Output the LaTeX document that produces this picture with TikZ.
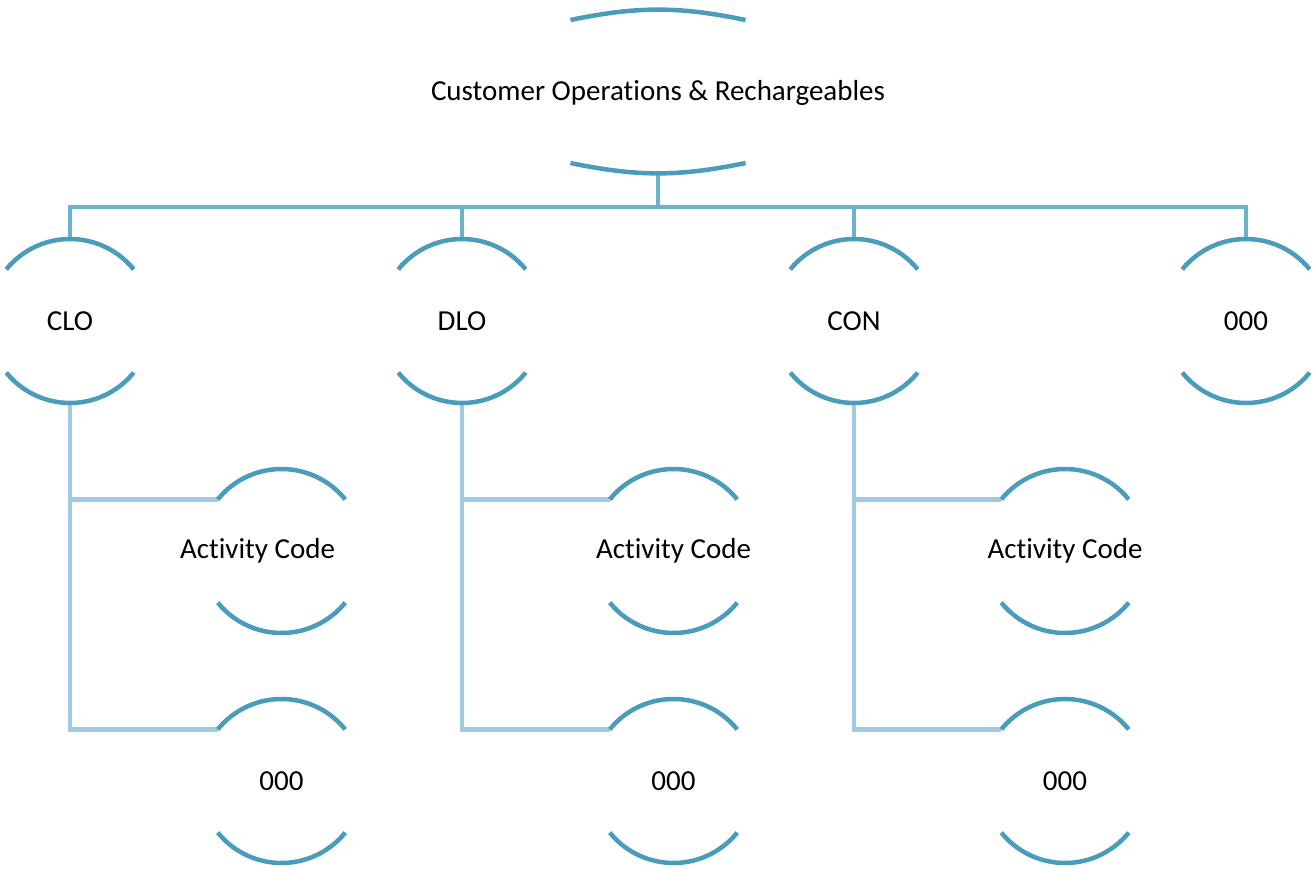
\documentclass[tikz,border=0pt]{standalone}
\usepackage{fontspec}
\setmainfont{Carlito}[Ligatures=NoCommon]
\definecolor{arcc}{HTML}{4A9CBD}
\definecolor{busc}{HTML}{6CB3CC}
\definecolor{subc}{HTML}{A0CAE3}
\newcommand\halfarcs[1]{%
  \draw[arcline] ([shift={(219:82)}]#1.center) arc[start angle=219,end angle=321,radius=82];
  \draw[arcline] ([shift={(39:82)}]#1.center) arc[start angle=39,end angle=141,radius=82];}
\begin{document}
\begin{tikzpicture}[x=1pt,y=1pt,
  every node/.style={font=\fontsize{29}{34}\selectfont, text=black},
  circ/.style={circle, minimum size=164pt, inner sep=0pt},
  rootbox/.style={rectangle, minimum width=175pt, minimum height=163pt, inner sep=0pt},
  arcline/.style={draw=arcc, line width=4.5pt},
  busline/.style={draw=busc, line width=4.5pt},
  subline/.style={draw=subc, line width=4.5pt}]
\useasboundingbox (0,0) rectangle (1314,868);
% nodes
\node[rootbox] (root) at (658,775.5) {Customer Operations \& Rechargeables};
\node[circ] (clo) at (70,547) {CLO};
\node[circ] (dlo) at (462,547) {DLO};
\node[circ] (con) at (854,547) {CON};
\node[circ] (zzz) at (1246,547) {000};
\node[circ, label={[xshift=-24pt]center:Activity Code}] (c1a) at (281.5,317) {};
\node[circ] (c1b) at (281.5,87) {000};
\node[circ] (c2a) at (673.5,317) {Activity Code};
\node[circ] (c2b) at (673.5,87) {000};
\node[circ] (c3a) at (1065,317) {Activity Code};
\node[circ] (c3b) at (1065,87) {000};
% connectors
\coordinate (bus) at (658,661);
\draw[busline] (root.south) -- (bus);
\draw[busline] (clo.north) |- (bus) -| (zzz.north);
\draw[busline] (dlo.north) -- (dlo.north |- bus);
\draw[busline] (con.north) -- (con.north |- bus);
\draw[subline] (clo.south) |- (c1a.141);
\draw[subline] (clo.south) |- (c1b.141);
\draw[subline] (dlo.south) |- (c2a.141);
\draw[subline] (dlo.south) |- (c2b.141);
\draw[subline] (con.south) |- (c3a.141);
\draw[subline] (con.south) |- (c3b.141);
% arcs
\draw[arcline] ([shift={(-87.5,72.5)}]root.center) to[bend left=11.7] ([shift={(87.5,72.5)}]root.center);
\draw[arcline] ([shift={(-87.5,-70.5)}]root.center) to[bend right=11.7] ([shift={(87.5,-70.5)}]root.center);
\foreach \n in {clo,dlo,con,zzz,c1a,c1b,c2a,c2b,c3a,c3b}{\halfarcs{\n}}
\end{tikzpicture}
\end{document}
